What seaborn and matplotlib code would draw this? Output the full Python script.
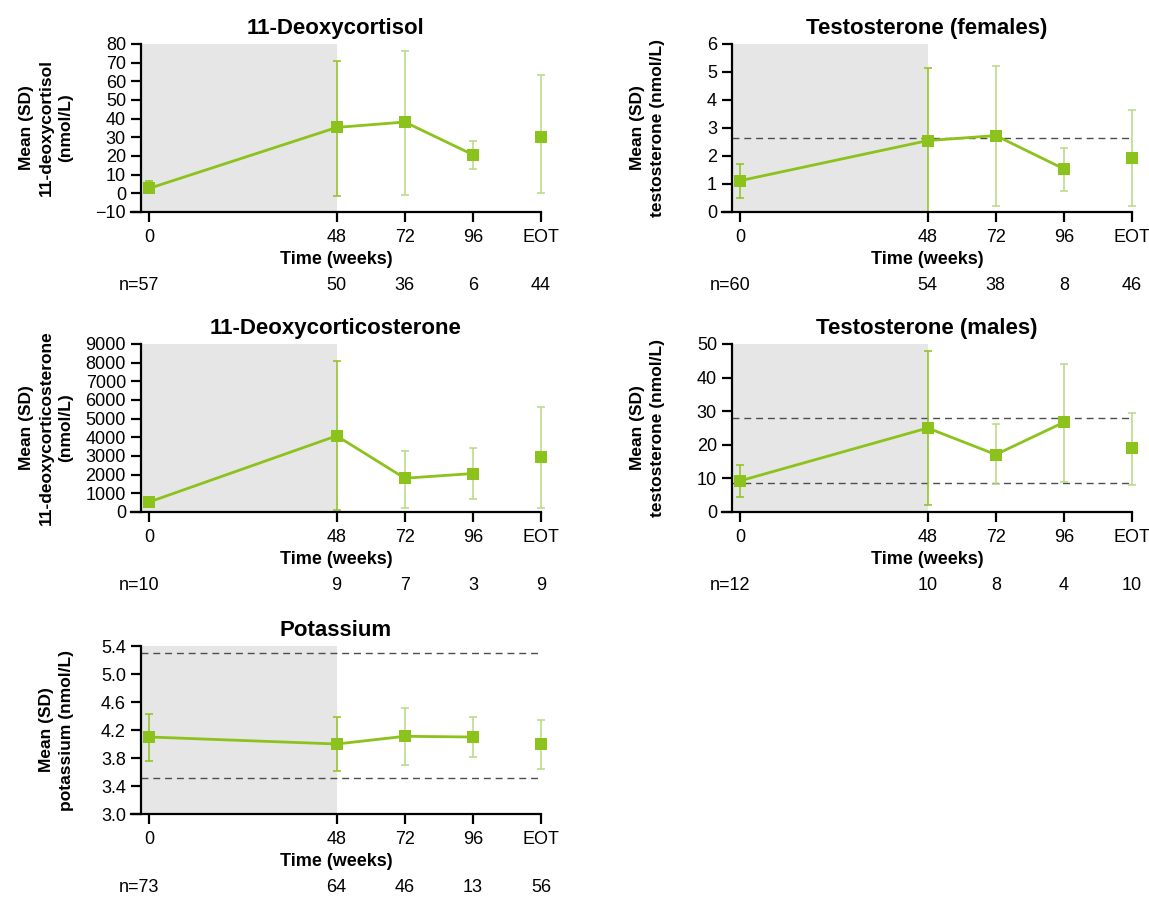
import matplotlib
matplotlib.use("Agg")
import matplotlib.pyplot as plt
import seaborn as sns

# visits on the x axis; 0 -> 48 weeks is drawn compressed, like the source figure
visits = ["0", "48", "72", "96", "EOT"]
visit_pos = [0, 2.75, 3.75, 4.75, 5.75]

# 11-Deoxycortisol (nmol/L): mean, lower and upper end of the SD bar, n
dcortisol_mean = [2.7, 35.3, 38.2, 20.7, 30.0]
dcortisol_lo = [0.0, -1.6, -0.7, 13.0, 0.2]
dcortisol_hi = [6.5, 70.8, 76.4, 28.3, 63.6]
dcortisol_n = [57, 50, 36, 6, 44]

# Testosterone, females (nmol/L)
testo_f_mean = [1.12, 2.55, 2.73, 1.54, 1.93]
testo_f_lo = [0.50, 0.0, 0.23, 0.76, 0.23]
testo_f_hi = [1.72, 5.13, 5.20, 2.29, 3.64]
testo_f_n = [60, 54, 38, 8, 46]
testo_f_ref = [2.65]

# 11-Deoxycorticosterone (nmol/L)
dcorticost_mean = [540, 4080, 1810, 2060, 2920]
dcorticost_lo = [350, 110, 230, 680, 200]
dcorticost_hi = [730, 8070, 3270, 3420, 5640]
dcorticost_n = [10, 9, 7, 3, 9]

# Testosterone, males (nmol/L)
testo_m_mean = [9.3, 25.0, 17.1, 26.7, 18.9]
testo_m_lo = [4.6, 2.2, 8.3, 8.8, 8.1]
testo_m_hi = [14.0, 47.8, 26.1, 44.0, 29.4]
testo_m_n = [12, 10, 8, 4, 10]
testo_m_ref = [28.1, 8.6]

# Potassium (nmol/L)
potassium_mean = [4.10, 4.00, 4.11, 4.10, 4.00]
potassium_lo = [3.76, 3.61, 3.70, 3.82, 3.65]
potassium_hi = [4.43, 4.39, 4.51, 4.39, 4.35]
potassium_n = [73, 64, 46, 13, 56]
potassium_ref = [5.30, 3.51]

panels = [
    dict(title="11-Deoxycortisol", ylabel="Mean (SD)\n11-deoxycortisol\n(nmol/L)",
         mean=dcortisol_mean, lo=dcortisol_lo, hi=dcortisol_hi, n=dcortisol_n, ref=[],
         yticks=[-10, 0, 10, 20, 30, 40, 50, 60, 70, 80], fmt="{:.0f}",
         rect=[131, 44, 410, 168]),
    dict(title="Testosterone (females)", ylabel="Mean (SD)\ntestosterone (nmol/L)",
         mean=testo_f_mean, lo=testo_f_lo, hi=testo_f_hi, n=testo_f_n, ref=testo_f_ref,
         yticks=[0, 1, 2, 3, 4, 5, 6], fmt="{:.0f}",
         rect=[722, 44, 410, 168]),
    dict(title="11-Deoxycorticosterone", ylabel="Mean (SD)\n11-deoxycorticosterone\n(nmol/L)",
         mean=dcorticost_mean, lo=dcorticost_lo, hi=dcorticost_hi, n=dcorticost_n, ref=[],
         yticks=[0, 1000, 2000, 3000, 4000, 5000, 6000, 7000, 8000, 9000], fmt="{:.0f}",
         rect=[131, 344, 410, 168]),
    dict(title="Testosterone (males)", ylabel="Mean (SD)\ntestosterone (nmol/L)",
         mean=testo_m_mean, lo=testo_m_lo, hi=testo_m_hi, n=testo_m_n, ref=testo_m_ref,
         yticks=[0, 10, 20, 30, 40, 50], fmt="{:.0f}",
         rect=[722, 344, 410, 168]),
    dict(title="Potassium", ylabel="Mean (SD)\npotassium (nmol/L)",
         mean=potassium_mean, lo=potassium_lo, hi=potassium_hi, n=potassium_n, ref=potassium_ref,
         yticks=[3.0, 3.4, 3.8, 4.2, 4.6, 5.0, 5.4], fmt="{:.1f}",
         rect=[131, 646, 410, 168]),
]

GREEN = "#8CC21C"
GREEN_LIGHT = "#B7D881"
SHADE = "#E6E6E6"
X_LEFT = -0.27     # where the x axis line starts
Y_SPINE = -0.13    # where the y axis sits

sns.set_style("ticks")
plt.rcParams["font.family"] = ["Liberation Sans", "DejaVu Sans"]
plt.rcParams["text.color"] = "black"
plt.rcParams["axes.labelcolor"] = "black"

W, H = 1149, 897
fig = plt.figure(figsize=(W / 100, H / 100), dpi=100)

for p in panels:
    left, top, width, height = p["rect"]
    ax = fig.add_axes([left / W, 1 - (top + height) / H, width / W, height / H])

    ymin, ymax = p["yticks"][0], p["yticks"][-1]
    ax.axvspan(Y_SPINE, visit_pos[1], color=SHADE, lw=0, zorder=0)
    for r in p["ref"]:
        ax.hlines(r, Y_SPINE, visit_pos[-1], colors="#4d4d4d", linestyles=(0, (5, 3.5)),
                  linewidth=1.0, zorder=1)

    # SD bars: darker inside the shaded period, lighter after it
    for i, x in enumerate(visit_pos):
        col = GREEN if i < 2 else GREEN_LIGHT
        m = p["mean"][i]
        ax.errorbar([x], [m], yerr=[[m - p["lo"][i]], [p["hi"][i] - m]], fmt="none",
                    ecolor=col, elinewidth=1.1, capsize=3.2, capthick=1.1, zorder=2)

    sns.lineplot(x=visit_pos[:4], y=p["mean"][:4], ax=ax, color=GREEN, linewidth=2.0,
                 marker="s", markersize=8.5, markeredgewidth=0, zorder=3)
    sns.scatterplot(x=visit_pos[4:], y=p["mean"][4:], ax=ax, color=GREEN, marker="s",
                    s=72, linewidth=0, zorder=3)

    for art in ax.lines + ax.collections:
        art.set_clip_on(False)

    ax.set_xlim(X_LEFT, visit_pos[-1])
    ax.set_ylim(ymin, ymax)
    ax.set_xticks(visit_pos)
    ax.set_xticklabels(visits)
    ax.set_yticks(p["yticks"])
    ax.set_yticklabels([p["fmt"].format(v).replace("-", "\u2212") for v in p["yticks"]])

    sns.despine(ax=ax)
    ax.spines["left"].set_position(("data", Y_SPINE))
    for s in ["left", "bottom"]:
        ax.spines[s].set_linewidth(1.6)
        ax.spines[s].set_color("black")
    ax.tick_params(axis="both", direction="out", length=7.5, width=1.6, color="black",
                   labelsize=13, labelcolor="black")
    ax.tick_params(axis="x", pad=5)
    ax.tick_params(axis="y", pad=3)

    ax.set_title(p["title"], fontsize=16, fontweight="bold", pad=7, color="black")
    ax.set_xlabel("Time (weeks)", fontsize=13, fontweight="bold")
    ax.xaxis.set_label_coords(0.5, -0.235)
    ax.set_ylabel(p["ylabel"], fontsize=12.5, fontweight="bold", linespacing=1.4)
    ax.yaxis.set_label_coords(-0.14, 0.5)

    # patient counts under each visit
    trans = ax.get_xaxis_transform()
    for i, (x, n) in enumerate(zip(visit_pos, p["n"])):
        if i == 0:
            ax.annotate(f"n={n}", xy=(x, -0.44), xycoords=trans, xytext=(7.2, 0),
                        textcoords="offset points", ha="right", va="center", fontsize=13)
        else:
            ax.text(x, -0.44, str(n), transform=trans, ha="center", va="center", fontsize=13)

fig.savefig("out.png", dpi=100)
